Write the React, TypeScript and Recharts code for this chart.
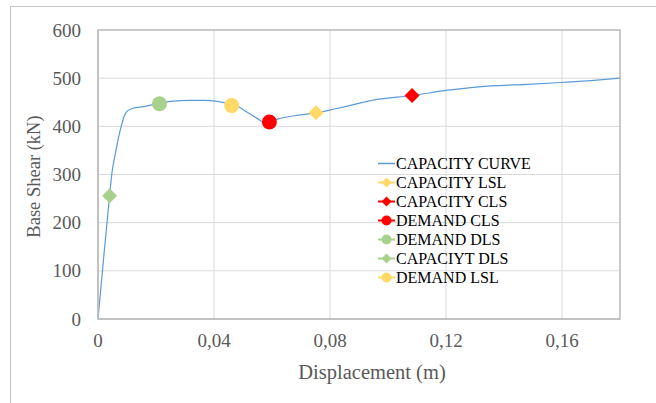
import React from 'react';
import {
  ComposedChart,
  Line,
  Scatter,
  XAxis,
  YAxis,
  CartesianGrid,
  ReferenceArea,
  Legend,
} from 'recharts';

// ---- Data ----
const curveX = [0, 0.002, 0.004, 0.0048, 0.006, 0.0069, 0.008, 0.0089, 0.01, 0.0118, 0.0158, 0.0212, 0.025, 0.0319, 0.0365, 0.0411, 0.0446, 0.0486, 0.0515, 0.055, 0.0567, 0.0591, 0.0619, 0.0676, 0.0752, 0.0815, 0.086, 0.0953, 0.1083, 0.1207, 0.1356, 0.1481, 0.1597, 0.17, 0.18];
const curveY = [0, 130, 256, 303, 344, 372, 400, 419, 431, 437, 441, 448, 452, 454, 454, 452, 448, 440, 429, 416, 410, 409, 415, 422, 428, 436, 442, 455, 464, 475, 484, 487, 491, 495, 500];
const capacityCurve = curveX.map((x, i) => ({ x, y: curveY[i] }));

const capacityLSL = [{ x: 0.0752, y: 428 }];
const capacityCLS = [{ x: 0.1083, y: 464 }];
const demandCLS = [{ x: 0.0591, y: 409 }];
const demandDLS = [{ x: 0.0212, y: 447 }];
const capacityDLS = [{ x: 0.004, y: 256 }];
const demandLSL = [{ x: 0.0461, y: 443 }];

const xTicks = [0, 0.04, 0.08, 0.12, 0.16];
const yTicks = [0, 100, 200, 300, 400, 500, 600];

const legendItems = [
  { name: 'CAPACITY CURVE', color: '#5b9bd5', marker: 'none' },
  { name: 'CAPACITY LSL', color: '#ffd966', marker: 'diamond' },
  { name: 'CAPACITY CLS', color: '#ff0000', marker: 'diamond' },
  { name: 'DEMAND CLS', color: '#ff0000', marker: 'circle' },
  { name: 'DEMAND DLS', color: '#a9d18e', marker: 'circle' },
  { name: 'CAPACIYT DLS', color: '#a9d18e', marker: 'diamond' },
  { name: 'DEMAND LSL', color: '#ffd966', marker: 'circle' },
];

const FONT = '"Liberation Serif", "Times New Roman", serif';

const diamondShape = (color: string, r: number) => (props: any) => {
  const { cx, cy } = props;
  return (
    <path
      d={`M${cx},${cy - r}L${cx + r},${cy}L${cx},${cy + r}L${cx - r},${cy}Z`}
      fill={color}
    />
  );
};

const circleShape = (color: string, r: number) => (props: any) => {
  const { cx, cy } = props;
  return <circle cx={cx} cy={cy} r={r} fill={color} />;
};

const LegendContent = () => (
  <div style={{ fontFamily: FONT, fontSize: 16, color: '#000', lineHeight: '19px', textAlign: 'left' }}>
    {legendItems.map((it) => (
      <div key={it.name} style={{ display: 'flex', alignItems: 'center', height: 19, whiteSpace: 'nowrap' }}>
        <svg width={18} height={19} style={{ display: 'block' }}>
          <line x1={0} y1={9.5} x2={17} y2={9.5} stroke={it.color} strokeWidth={it.marker === 'none' ? 1.5 : 2} />
          {it.marker === 'diamond' && (
            <path d="M8.5,4.5L13.5,9.5L8.5,14.5L3.5,9.5Z" fill={it.color} />
          )}
          {it.marker === 'circle' && <circle cx={8.5} cy={9.5} r={5} fill={it.color} />}
        </svg>
        <span>{it.name}</span>
      </div>
    ))}
  </div>
);

const fmtX = (v: number) => (v === 0 ? '0' : String(Number(v.toFixed(2))).replace('.', ','));

const XTick = (props: any) => {
  const { x, y, payload } = props;
  return (
    <text x={x} y={y} dy={13} textAnchor="middle" fill="#595959" fontSize={19} style={{ fontFamily: FONT }}>
      {fmtX(payload.value)}
    </text>
  );
};

const YTick = (props: any) => {
  const { x, y, payload } = props;
  return (
    <text x={x} y={y} dy={6.5} textAnchor="end" fill="#595959" fontSize={19} style={{ fontFamily: FONT }}>
      {payload.value}
    </text>
  );
};

export default function App() {
  return (
    <div style={{ position: 'absolute', left: 0, top: 0, width: 656, height: 403, background: '#fff', fontFamily: FONT }}>
      <div
        style={{
          position: 'absolute',
          left: 10,
          top: 6,
          width: 660,
          height: 420,
          borderLeft: '1px solid #c4c4c4',
          borderTop: '1px solid #c4c4c4',
        }}
      />
      <div style={{ position: 'absolute', left: 0, top: 0 }}>
        <ComposedChart
          width={656}
          height={403}
          margin={{ top: 30, right: 36, left: 0, bottom: 0 }}
          style={{ fontFamily: FONT }}
        >
          <CartesianGrid stroke="#d9d9d9" strokeWidth={1} />
          <XAxis
            type="number"
            dataKey="x"
            domain={[0, 0.18]}
            ticks={xTicks}
            height={84}
            tickSize={0}
            tickMargin={15}
            axisLine={{ stroke: '#bfbfbf', strokeWidth: 1.5 }}
            tick={<XTick />}
            allowDataOverflow
            label={{
              content: (p: any) => {
                const vb = p.viewBox;
                return (
                  <text
                    x={vb.x + vb.width / 2 + 13}
                    y={vb.y + 60}
                    textAnchor="middle"
                    fill="#595959"
                    fontSize={20.5}
                    style={{ fontFamily: FONT }}
                  >
                    Displacement (m)
                  </text>
                );
              },
            }}
          />
          <YAxis
            type="number"
            dataKey="y"
            domain={[0, 600]}
            ticks={yTicks}
            width={98}
            tickSize={0}
            tickMargin={17}
            axisLine={{ stroke: '#bfbfbf', strokeWidth: 1.5 }}
            tick={<YTick />}
            label={{
              content: (p: any) => {
                const vb = p.viewBox;
                const cy = vb.y + vb.height / 2 + 2;
                return (
                  <text
                    x={40}
                    y={cy}
                    transform={`rotate(-90, 40, ${cy})`}
                    textAnchor="middle"
                    fill="#595959"
                    fontSize={18.5}
                    style={{ fontFamily: FONT }}
                  >
                    Base Shear (kN)
                  </text>
                );
              },
            }}
          />
          <ReferenceArea x1={0} x2={0.18} y1={0} y2={600} fill="none" stroke="#bfbfbf" strokeWidth={1.5} />
          <Line
            data={capacityCurve}
            dataKey="y"
            type="monotone"
            stroke="#5b9bd5"
            strokeWidth={1.2}
            dot={false}
            activeDot={false}
            isAnimationActive={false}
            name="CAPACITY CURVE"
          />
          <Scatter data={capacityDLS} name="CAPACIYT DLS" shape={diamondShape('#a9d18e', 7.5)} isAnimationActive={false} />
          <Scatter data={demandDLS} name="DEMAND DLS" shape={circleShape('#a9d18e', 7.5)} isAnimationActive={false} />
          <Scatter data={demandLSL} name="DEMAND LSL" shape={circleShape('#ffd966', 7.5)} isAnimationActive={false} />
          <Scatter data={demandCLS} name="DEMAND CLS" shape={circleShape('#ff0000', 7.5)} isAnimationActive={false} />
          <Scatter data={capacityLSL} name="CAPACITY LSL" shape={diamondShape('#ffd966', 7.5)} isAnimationActive={false} />
          <Scatter data={capacityCLS} name="CAPACITY CLS" shape={diamondShape('#ff0000', 7.5)} isAnimationActive={false} />
          <Legend
            content={<LegendContent />}
            layout="horizontal"
            verticalAlign="middle"
            align="center"
            wrapperStyle={{ position: 'absolute', left: 378, top: 154, width: 180 }}
          />
        </ComposedChart>
      </div>
    </div>
  );
}
